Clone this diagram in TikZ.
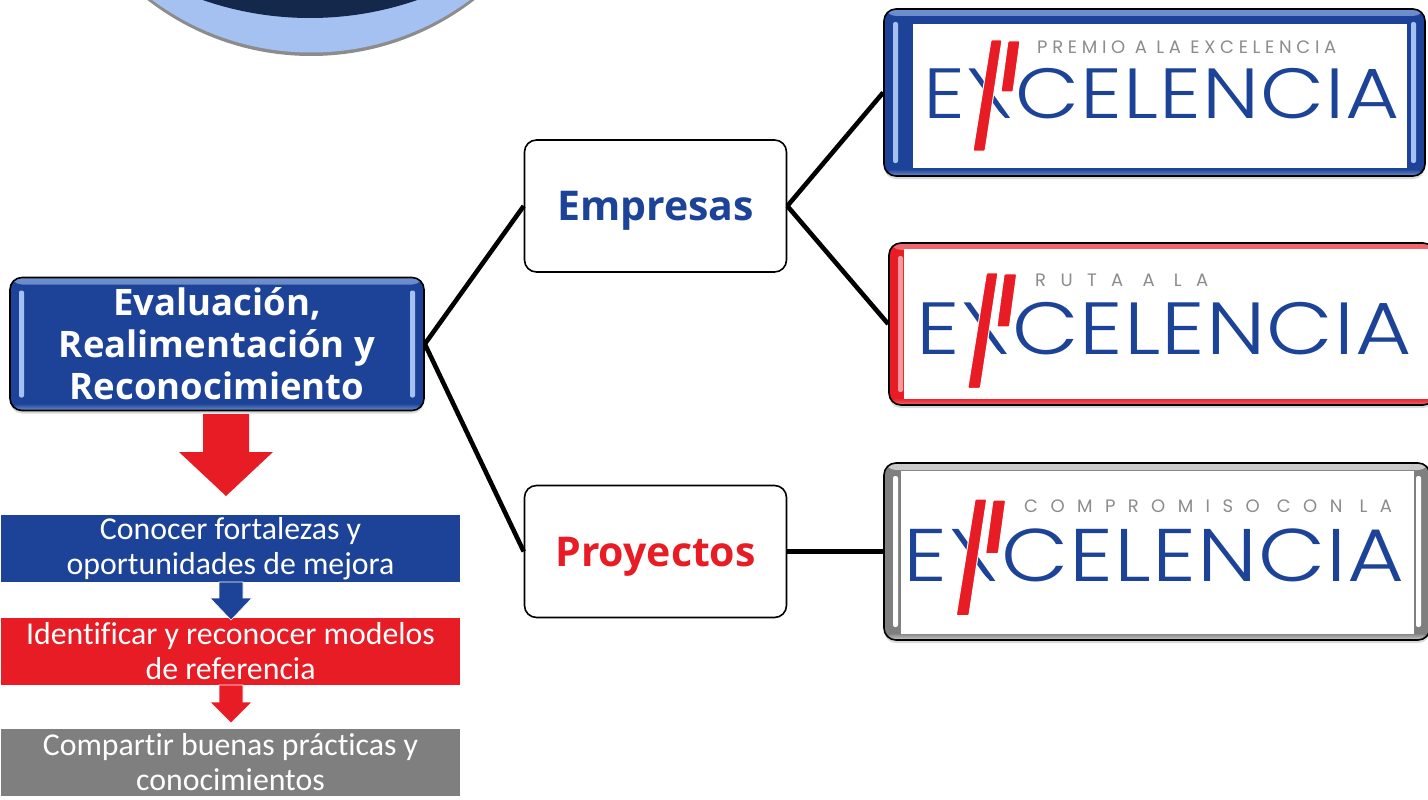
\documentclass[tikz,border=0pt]{standalone}
\usepackage{fontspec}
\setmainfont[Ligatures=NoCommon]{Carlito}
\newfontfamily\titlefont{Open Sans}
\newfontfamily\logofont[FakeStretch=1.17]{Poppins Light}
\newfontfamily\tagfont{Poppins}
\usetikzlibrary{shadows}
\definecolor{exblue}{HTML}{1C4397}
\definecolor{exred}{HTML}{E81C24}
\definecolor{exgray}{HTML}{7F7F7F}
\definecolor{exsky}{HTML}{A5C1F2}
\definecolor{exnavy}{HTML}{14284B}
\tikzset{
  bevel box/.style 2 args={
    draw=black, line width=1.6pt, rounded corners=12pt, fill=#1,
    drop shadow={shadow xshift=0pt, shadow yshift=-3pt, opacity=0.3},
    path picture={
      \shade[top color=#2!60!#1, bottom color=#1] (path picture bounding box.north west) rectangle ([yshift=-7pt]path picture bounding box.north east);
      \shade[top color=#1, bottom color=#2!60!#1] ([yshift=7pt]path picture bounding box.south west) rectangle (path picture bounding box.south east);
      \fill[#2, rounded corners=2pt] ([xshift=9pt,yshift=-13pt]path picture bounding box.north west) rectangle ([xshift=14pt,yshift=13pt]path picture bounding box.south west);
      \fill[#2, rounded corners=2pt] ([xshift=-9pt,yshift=-13pt]path picture bounding box.north east) rectangle ([xshift=-14pt,yshift=13pt]path picture bounding box.south east);
    }
  },
  link/.style={draw=black, line width=4.6pt},
  branch box/.style={draw=black, line width=1.6pt, rounded corners=12pt, fill=white, minimum width=262pt, minimum height=132pt, text depth=0pt, font=\titlefont\bfseries\fontsize{41}{48}\selectfont},
  goal box/.style={fill=#1, text=white, minimum width=459pt, minimum height=67pt, inner sep=0pt, align=center, font=\fontsize{31.8}{35}\selectfont},
  goal arrow/.style={fill=#1, draw=white, line width=0.6pt},
  tagline/.style={anchor=west, inner sep=0pt, text=exgray!90, font=\tagfont\fontsize{18}{20}\selectfont},
  excelencia/.pic={
    \node[anchor=base west, inner sep=0pt, text=exblue, font=\logofont\fontsize{71}{71}\selectfont] (-word) at (-5,0) {\addfontfeature{LetterSpace=1.5}EXCELENCIA};
    \fill[white] (34,2) -- (34,-10) -- (52,-27) -- (60,-18) -- (79,2) -- cycle;
    \fill[white] (68,-53) -- (60,-32) -- (86,-8) -- (89,-53) -- cycle;
    \draw[fill=exred, draw=white, line width=1pt, rounded corners=1pt] (63,-78) -- (74,-78) -- (57,33) -- (45,33) -- cycle;
    \draw[fill=exred, draw=white, line width=1pt, rounded corners=1pt] (80,-77) -- (92,-77) -- (85,-26) -- (73,-26) -- cycle;
  }
}
\begin{document}
\begin{tikzpicture}[x=1pt,y=-1pt]
  \useasboundingbox (0,0) rectangle (1428,800);
  \fill[black!45, yshift=-2pt] (311,-213) circle [radius=267];
  \fill[exsky] (311,-214) circle [radius=266.5];
  \fill[exnavy] (310,-309) circle [radius=327];

  \node[bevel box={exblue}{exsky}, minimum width=414pt, minimum height=133pt, inner sep=0pt, align=center, text=white, font=\titlefont\bfseries\fontsize{36.5}{42}\selectfont] (evaluacion) at (217,344) {Evaluación,\\Realimentación y\\Reconocimiento};
  \node[branch box, text=exblue] (empresas) at (655.5,206) {Empresas};
  \node[branch box, text=exred] (proyectos) at (655.5,551.5) {Proyectos};
  \node[bevel box={exblue}{exsky}, minimum width=541pt, minimum height=167pt] (premio) at (1154.5,92.5) {};
  \node[bevel box={exred}{exred!45!white}, minimum width=546pt, minimum height=162pt] (ruta) at (1162,324) {};
  \node[bevel box={exgray}{white}, minimum width=546pt, minimum height=177pt] (compromiso) at (1157,551.5) {};

  \draw[link] (evaluacion.east) -- (empresas.west);
  \draw[link] (evaluacion.east) -- (proyectos.west);
  \draw[link] (empresas.east) -- (premio.west);
  \draw[link] (empresas.east) -- (ruta.west);
  \draw[link] (proyectos.east) -- (compromiso.west);

  \fill[white] (913,24) rectangle (1407,168);
  \fill[white] (904,249) rectangle (1440,399);
  \fill[white] (901,471) rectangle (1414,634);

  \pic (logopremio) at (928,118) {excelencia};
  \pic[transform shape, scale=1.04] (logoruta) at (921,354) {excelencia};
  \pic[transform shape, scale=1.05] (logocompromiso) at (909,581) {excelencia};
  \node[tagline] (premiotag) at (1037,47) {\addfontfeature{LetterSpace=26}PREMIO A LA EXCELENCIA};
  \node[tagline] (rutatag) at (1035,280) {\addfontfeature{LetterSpace=80}RUTA A LA};
  \node[tagline] (compromisotag) at (1024,506) {\addfontfeature{LetterSpace=69}COMPROMISO CON LA};

  \fill[exred] (203,414) -- (249,414) -- (249,452) -- (273,452) -- (226,496) -- (179,452) -- (203,452) -- cycle;
  \node[goal box=exblue] (conocer) at (230.5,548.5) {Conocer fortalezas y\\oportunidades de mejora};
  \node[goal box=exred] (identificar) at (230.5,651.5) {Identificar y reconocer modelos\\de referencia};
  \node[goal box=exgray] (compartir) at (230.5,762.5) {Compartir buenas prácticas y\\conocimientos};
  \draw[goal arrow=exblue] (219,582) -- (243,582) -- (243,598) -- (252,598) -- (231,620) -- (210,598) -- (219,598) -- cycle;
  \draw[goal arrow=exred] (219,685) -- (243,685) -- (243,702) -- (252,702) -- (231,723) -- (210,702) -- (219,702) -- cycle;
\end{tikzpicture}
\end{document}
